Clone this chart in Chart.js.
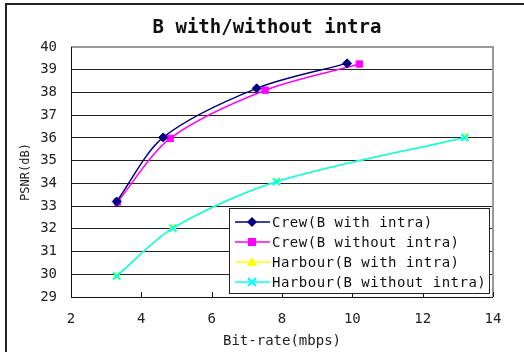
<!DOCTYPE html>
<html>
<head>
<meta charset="utf-8">
<script src="https://cdn.jsdelivr.net/npm/chart.js@4.4.0/dist/chart.umd.min.js"></script>
<style>
html, body { margin: 0; padding: 0; background: #fff; }
#wrap { width: 524px; height: 352px; }
</style>
</head>
<body>
<div id="wrap"><canvas id="chart" width="524" height="352"></canvas></div>
<script>
var chartTitle = 'B with/without intra'
var seriesNames = ['Crew(B with intra)', 'Crew(B without intra)', 'Harbour(B with intra)', 'Harbour(B without intra)']
var crewWithX = [3.3, 4.62, 7.28, 9.85]
var crewWithY = [33.2, 36.02, 38.18, 39.28]
var crewWithoutX = [3.32, 4.82, 7.52, 10.2]
var crewWithoutY = [33.18, 35.98, 38.1, 39.25]
var harbourWithX = [3.3, 4.9, 7.84, 13.2]
var harbourWithY = [29.92, 32.03, 34.07, 36.02]
var harbourWithoutX = [3.3, 4.9, 7.84, 13.2]
var harbourWithoutY = [29.92, 32.03, 34.07, 36.02]

var colors = ['#000080', '#FF00FF', '#FFFF00', '#00FFFF']
var markers = ['rectRot', 'rect', 'triangle', 'crossRot']
var monoFont = '"DejaVu Sans Mono", "Liberation Mono", monospace'

function toPoints(xs, ys) {
    var pts = []
    for (var i = 0; i < xs.length; i++) {
        pts.push({x: xs[i], y: ys[i]})
    }
    return pts
}

function makeSet(i, xs, ys, order) {
    return {
        label: seriesNames[i],
        data: toPoints(xs, ys),
        borderColor: colors[i],
        backgroundColor: colors[i],
        borderWidth: 1.5,
        pointStyle: markers[i],
        pointRadius: markers[i] == 'crossRot' ? 5 : 4.5,
        pointBorderWidth: markers[i] == 'crossRot' ? 2 : 1,
        tension: 0.3,
        showLine: true,
        fill: false,
        order: order
    }
}

function drawMarker(ctx, style, color, x, y) {
    ctx.save()
    ctx.fillStyle = color
    ctx.strokeStyle = color
    ctx.beginPath()
    if (style == 'rectRot') {
        ctx.moveTo(x, y - 5); ctx.lineTo(x + 5, y); ctx.lineTo(x, y + 5); ctx.lineTo(x - 5, y)
        ctx.closePath(); ctx.fill()
    } else if (style == 'rect') {
        ctx.fillRect(x - 4, y - 4, 8, 8)
    } else if (style == 'triangle') {
        ctx.moveTo(x, y - 5); ctx.lineTo(x + 5, y + 4); ctx.lineTo(x - 5, y + 4)
        ctx.closePath(); ctx.fill()
    } else {
        ctx.lineWidth = 2
        ctx.moveTo(x - 4, y - 4); ctx.lineTo(x + 4, y + 4)
        ctx.moveTo(x + 4, y - 4); ctx.lineTo(x - 4, y + 4)
        ctx.stroke()
    }
    ctx.restore()
}

var framePlugin = {
    id: 'frame',
    beforeDraw: function (chart) {
        var ctx = chart.ctx
        ctx.save()
        ctx.fillStyle = '#fff'
        ctx.fillRect(0, 0, chart.width, chart.height)
        ctx.strokeStyle = '#222'
        ctx.lineWidth = 2
        ctx.beginPath()
        ctx.moveTo(6, chart.height)
        ctx.lineTo(6, 4)
        ctx.lineTo(chart.width, 4)
        ctx.stroke()
        // title, centred over the plot like the original
        ctx.fillStyle = '#111'
        ctx.font = 'bold 19px ' + monoFont
        ctx.textAlign = 'center'
        ctx.textBaseline = 'middle'
        ctx.fillText(chartTitle, 267, 28)
        ctx.restore()
    },
    beforeDatasetsDraw: function (chart) {
        var ctx = chart.ctx
        var a = chart.chartArea
        var xs = chart.scales.x
        ctx.save()
        ctx.strokeStyle = '#999'
        ctx.lineWidth = 2
        ctx.beginPath()
        ctx.moveTo(a.left, a.top)
        ctx.lineTo(a.right, a.top)
        ctx.lineTo(a.right, a.bottom)
        ctx.stroke()
        ctx.strokeStyle = '#111'
        ctx.lineWidth = 1
        ctx.beginPath()
        ctx.moveTo(a.left + 0.5, a.top)
        ctx.lineTo(a.left + 0.5, a.bottom + 0.5)
        ctx.lineTo(a.right, a.bottom + 0.5)
        xs.ticks.forEach(function (t) {
            var px = Math.round(xs.getPixelForValue(t.value)) + 0.5
            ctx.moveTo(px, a.bottom)
            ctx.lineTo(px, a.bottom - 5)
        })
        ctx.stroke()
        ctx.restore()
    },
    afterDraw: function (chart) {
        var ctx = chart.ctx
        var bx = 229, by = 208, bw = 260, bh = 85
        ctx.save()
        ctx.fillStyle = '#fff'
        ctx.fillRect(bx, by, bw, bh)
        ctx.strokeStyle = '#222'
        ctx.lineWidth = 1
        ctx.strokeRect(bx + 0.5, by + 0.5, bw, bh)
        ctx.font = '14px ' + monoFont
        ctx.letterSpacing = '0.5px'
        ctx.textBaseline = 'middle'
        ctx.textAlign = 'left'
        for (var i = 0; i < seriesNames.length; i++) {
            var ry = by + 14 + i * 20
            ctx.strokeStyle = colors[i]
            ctx.lineWidth = 1.5
            ctx.beginPath()
            ctx.moveTo(235, ry)
            ctx.lineTo(270, ry)
            ctx.stroke()
            drawMarker(ctx, markers[i], colors[i], 252, ry)
            ctx.fillStyle = '#111'
            ctx.fillText(seriesNames[i], 272, ry + 1)
        }
        ctx.restore()
    }
}

var ctx = document.getElementById('chart').getContext('2d')
var chart = new Chart(ctx, {
    type: 'scatter',
    data: {
        datasets: [
            makeSet(0, crewWithX, crewWithY, 1),
            makeSet(1, crewWithoutX, crewWithoutY, 2),
            makeSet(2, harbourWithX, harbourWithY, 4),
            makeSet(3, harbourWithoutX, harbourWithoutY, 3)
        ]
    },
    options: {
        responsive: false,
        animation: false,
        layout: {
            padding: {left: 0, right: 31, top: 47, bottom: 0}
        },
        plugins: {
            legend: {display: false},
            tooltip: {enabled: false},
            title: {display: false}
        },
        scales: {
            x: {
                type: 'linear',
                min: 2,
                max: 14,
                ticks: {stepSize: 2, color: '#222', padding: 14, font: {family: monoFont, size: 14}},
                grid: {display: false, drawTicks: false},
                border: {display: false},
                title: {
                    display: true,
                    text: 'Bit-rate(mbps)',
                    color: '#222',
                    font: {family: monoFont, size: 14},
                    padding: {top: 0, bottom: 2}
                },
                afterFit: function (scale) { scale.height = 55 }
            },
            y: {
                type: 'linear',
                min: 29,
                max: 40,
                ticks: {stepSize: 1, color: '#222', padding: 14, font: {family: monoFont, size: 14}},
                grid: {color: '#222', lineWidth: 1, drawTicks: false},
                border: {display: false},
                title: {
                    display: true,
                    text: 'PSNR(dB)',
                    color: '#222',
                    font: {family: monoFont, size: 12},
                    padding: {top: 19, bottom: 0}
                },
                afterFit: function (scale) { scale.width = 71 }
            }
        }
    },
    plugins: [framePlugin]
})
</script>
</body>
</html>
